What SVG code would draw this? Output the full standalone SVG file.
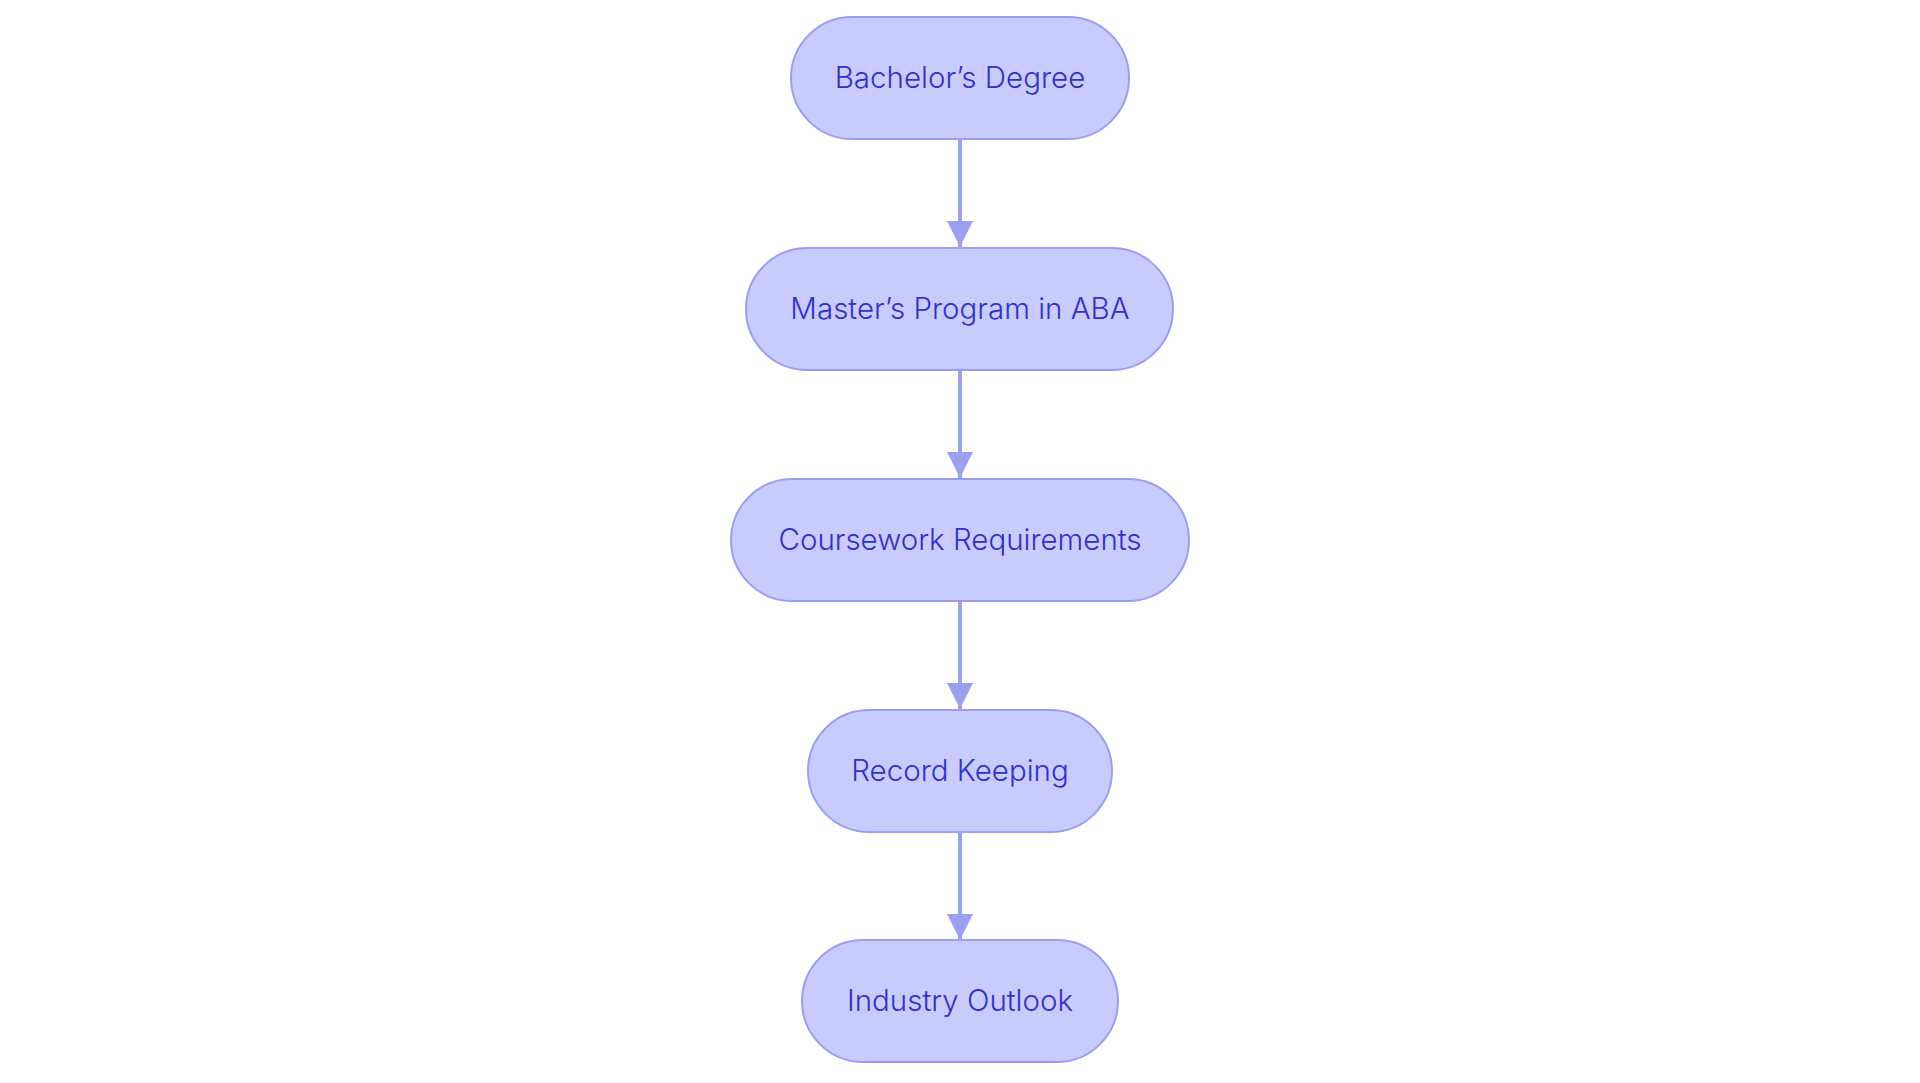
<svg xmlns="http://www.w3.org/2000/svg" width="1920" height="1083" viewBox="0 0 1920 1083">
<style>
.node rect{fill:#c9cbfc;stroke:#9a9ef0;stroke-width:2}
.node text{font-family:Inter,"Noto Sans","Liberation Sans",sans-serif;font-size:29.5px;font-weight:350;fill:#3232c8;text-anchor:middle;dominant-baseline:central}
.edge{stroke:#9ca0f0;stroke-width:4;fill:none}
.head{fill:#9ca0f0}
</style>
<rect width="1920" height="1083" fill="#ffffff"/>
<g id="connectors">
<line class="edge" x1="960" y1="139" x2="960" y2="247"/>
<path class="head" d="M947,221 L973,221 L960,247 Z"/>
<line class="edge" x1="960" y1="370" x2="960" y2="478"/>
<path class="head" d="M947,452 L973,452 L960,478 Z"/>
<line class="edge" x1="960" y1="601" x2="960" y2="709"/>
<path class="head" d="M947,683 L973,683 L960,709 Z"/>
<line class="edge" x1="960" y1="832" x2="960" y2="940"/>
<path class="head" d="M947,914 L973,914 L960,940 Z"/>
</g>
<g id="n1" class="node">
<rect x="791" y="17" width="338" height="122" rx="61" ry="61"/>
<text x="960" y="76.5">Bachelor’s Degree</text>
</g>
<g id="n2" class="node">
<rect x="746" y="248" width="427" height="122" rx="61" ry="61"/>
<text x="960" y="307.5">Master’s Program in ABA</text>
</g>
<g id="n3" class="node">
<rect x="731" y="479" width="458" height="122" rx="61" ry="61"/>
<text x="960" y="538.5">Coursework Requirements</text>
</g>
<g id="n4" class="node">
<rect x="808" y="710" width="304" height="122" rx="61" ry="61"/>
<text x="960" y="769.5">Record Keeping</text>
</g>
<g id="n5" class="node">
<rect x="802" y="940" width="316" height="122" rx="61" ry="61"/>
<text x="960" y="999.5">Industry Outlook</text>
</g>
</svg>
